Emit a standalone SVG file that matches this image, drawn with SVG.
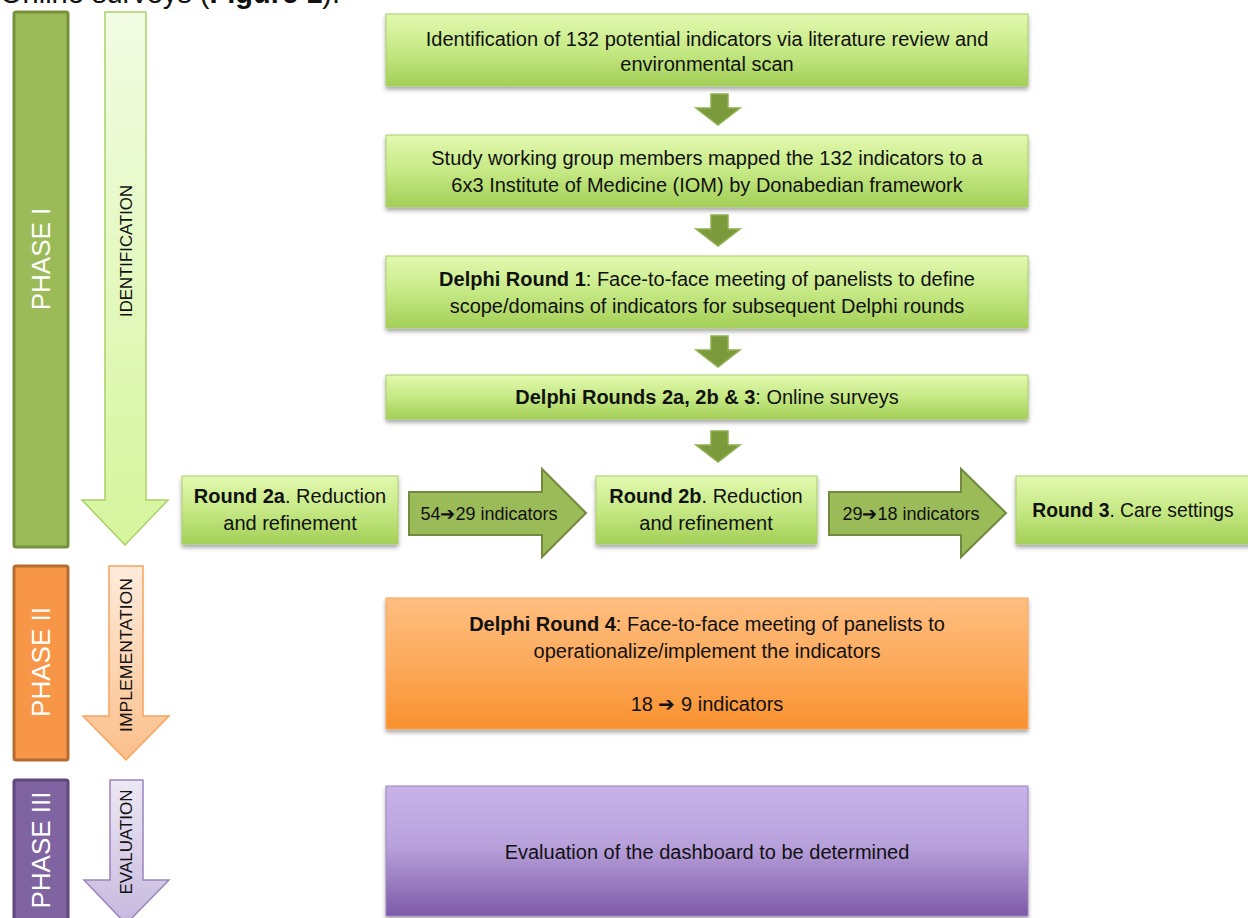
<svg xmlns="http://www.w3.org/2000/svg" width="1248" height="918" viewBox="0 0 1248 918">
<defs>
<linearGradient id="gGreen" x1="0" y1="0" x2="0" y2="1"><stop offset="0" stop-color="#E2F9B0"/><stop offset="0.5" stop-color="#C6E985"/><stop offset="1" stop-color="#A3CF57"/></linearGradient>
<linearGradient id="gOrange" x1="0" y1="0" x2="0" y2="1"><stop offset="0" stop-color="#FFBE80"/><stop offset="0.5" stop-color="#FCAA5C"/><stop offset="1" stop-color="#F9912E"/></linearGradient>
<linearGradient id="gPurple" x1="0" y1="0" x2="0" y2="1"><stop offset="0" stop-color="#C8B3E9"/><stop offset="0.45" stop-color="#B9A2DC"/><stop offset="1" stop-color="#7D5AA8"/></linearGradient>
<linearGradient id="gIdArrow" x1="0" y1="0" x2="0" y2="1"><stop offset="0" stop-color="#F2FCE4"/><stop offset="1" stop-color="#D6F59C"/></linearGradient>
<linearGradient id="gImpArrow" x1="0" y1="0" x2="0" y2="1"><stop offset="0" stop-color="#FEEBDC"/><stop offset="1" stop-color="#FBBF8A"/></linearGradient>
<linearGradient id="gEvArrow" x1="0" y1="0" x2="0" y2="1"><stop offset="0" stop-color="#EDE8F4"/><stop offset="1" stop-color="#C6B8DE"/></linearGradient>
<filter id="sh" x="-5%" y="-10%" width="110%" height="130%"><feDropShadow dx="0" dy="3" stdDeviation="2" flood-color="#000" flood-opacity="0.35"/></filter>
</defs>
<style>
text{font-family:"Liberation Sans",Arial,sans-serif;fill:#111;}
.t{font-size:20px;text-anchor:middle;}
.b{font-weight:bold;}
.gbox{fill:url(#gGreen);stroke:#A9CC6A;stroke-width:1;filter:url(#sh);}
.sarrow{fill:#7A9A3C;stroke:#8FB04E;stroke-width:1.5;}
.barrow{fill:#9BBB59;stroke:#718A3E;stroke-width:2;}
.phase{font-size:26px;fill:#fff;text-anchor:middle;}
.vlab{font-size:17px;text-anchor:middle;}
.ind{font-size:18px;text-anchor:middle;}
</style>

<text x="0" y="3" style="font-size:29px;">Online surveys (<tspan class="b">Figure 1</tspan>).</text>

<g id="phase1">
<rect x="14" y="12" width="54" height="535" rx="2" fill="#9BBB59" stroke="#76923C" stroke-width="3"/>
<text class="phase" transform="translate(50,259) rotate(-90)">PHASE I</text>
</g>
<g id="identification">
<path d="M105,12 H146 V500 H168 L125,545 L82,500 H105 Z" fill="url(#gIdArrow)" stroke="#A9CF6A" stroke-width="1.5"/>
<text class="vlab" transform="translate(132,251) rotate(-90)" textLength="132" lengthAdjust="spacingAndGlyphs">IDENTIFICATION</text>
</g>

<g id="phase2">
<rect x="14" y="566" width="54" height="194" rx="2" fill="#F79646" stroke="#B66D31" stroke-width="3"/>
<text class="phase" transform="translate(50,662) rotate(-90)">PHASE II</text>
</g>
<g id="implementation">
<path d="M109,566 H143 V716 H169 L126,760 L83,716 H109 Z" fill="url(#gImpArrow)" stroke="#F7A35C" stroke-width="1.5"/>
<text class="vlab" transform="translate(132,655) rotate(-90)" textLength="154" lengthAdjust="spacingAndGlyphs">IMPLEMENTATION</text>
</g>

<g id="phase3">
<rect x="14" y="780" width="54" height="145" rx="2" fill="#8064A2" stroke="#5F497A" stroke-width="3"/>
<text class="phase" transform="translate(50,850) rotate(-90)">PHASE III</text>
</g>
<g id="evaluation">
<path d="M110,780 H143 V880 H169 L126,924 L84,880 H110 Z" fill="url(#gEvArrow)" stroke="#9A85BC" stroke-width="1.5"/>
<text class="vlab" transform="translate(132,842) rotate(-90)" textLength="105" lengthAdjust="spacingAndGlyphs">EVALUATION</text>
</g>

<g id="box1">
<rect class="gbox" x="386" y="14" width="642" height="72"/>
<text class="t" x="707" y="46">Identification of 132 potential indicators via literature review and</text>
<text class="t" x="707" y="71">environmental scan</text>
</g>
<g id="box2">
<rect class="gbox" x="386" y="135" width="642" height="72"/>
<text class="t" x="707" y="165">Study working group members mapped the 132 indicators to a</text>
<text class="t" x="707" y="192">6x3 Institute of Medicine (IOM) by Donabedian framework</text>
</g>
<g id="box3">
<rect class="gbox" x="386" y="256" width="642" height="72"/>
<text class="t" x="707" y="286"><tspan class="b">Delphi Round 1</tspan>: Face-to-face meeting of panelists to define</text>
<text class="t" x="707" y="313">scope/domains of indicators for subsequent Delphi rounds</text>
</g>
<g id="box4">
<rect class="gbox" x="386" y="375" width="642" height="44"/>
<text class="t" x="707" y="404"><tspan class="b">Delphi Rounds 2a, 2b &amp; 3</tspan>: Online surveys</text>
</g>
<g id="round2a">
<rect class="gbox" x="182" y="476" width="216" height="68"/>
<text class="t" x="290" y="503"><tspan class="b">Round 2a</tspan>. Reduction</text>
<text class="t" x="290" y="530">and refinement</text>
</g>
<g id="round2b">
<rect class="gbox" x="596" y="476" width="221" height="68"/>
<text class="t" x="706" y="503"><tspan class="b">Round 2b</tspan>. Reduction</text>
<text class="t" x="706" y="530">and refinement</text>
</g>
<g id="round3">
<rect class="gbox" x="1016" y="476" width="240" height="68"/>
<text class="t" x="1133" y="517" style="font-size:19.3px;"><tspan class="b">Round 3</tspan>. Care settings</text>
</g>
<g id="round4">
<rect x="386" y="598" width="642" height="131" fill="url(#gOrange)" stroke="#F8A55C" stroke-width="1" filter="url(#sh)"/>
<text class="t" x="707" y="631"><tspan class="b">Delphi Round 4</tspan>: Face-to-face meeting of panelists to</text>
<text class="t" x="707" y="658">operationalize/implement the indicators</text>
<text class="t" x="707" y="711">18 ➔ 9 indicators</text>
</g>
<g id="eval-box">
<rect x="386" y="786" width="642" height="130" fill="url(#gPurple)" stroke="#9B84BE" stroke-width="1" filter="url(#sh)"/>
<text class="t" x="707" y="859">Evaluation of the dashboard to be determined</text>
</g>

<g id="connectors">
<path class="sarrow" d="M711,94 H728 V108 H740 L718,125 L696,108 H711 Z"/>
<path class="sarrow" d="M711,215 H728 V229 H740 L718,246 L696,229 H711 Z"/>
<path class="sarrow" d="M711,336 H728 V350 H740 L718,367 L696,350 H711 Z"/>
<path class="sarrow" d="M711,431 H728 V445 H740 L718,462 L696,445 H711 Z"/>
<g>
<path class="barrow" d="M409,492 H542 V469 L586,513 L542,557 V535 H409 Z"/>
<text class="ind" x="489" y="520">54➔29 indicators</text>
</g>
<g>
<path class="barrow" d="M829,492 H961 V469 L1006,513 L961,557 V535 H829 Z"/>
<text class="ind" x="911" y="520">29➔18 indicators</text>
</g>
</g>
</svg>
